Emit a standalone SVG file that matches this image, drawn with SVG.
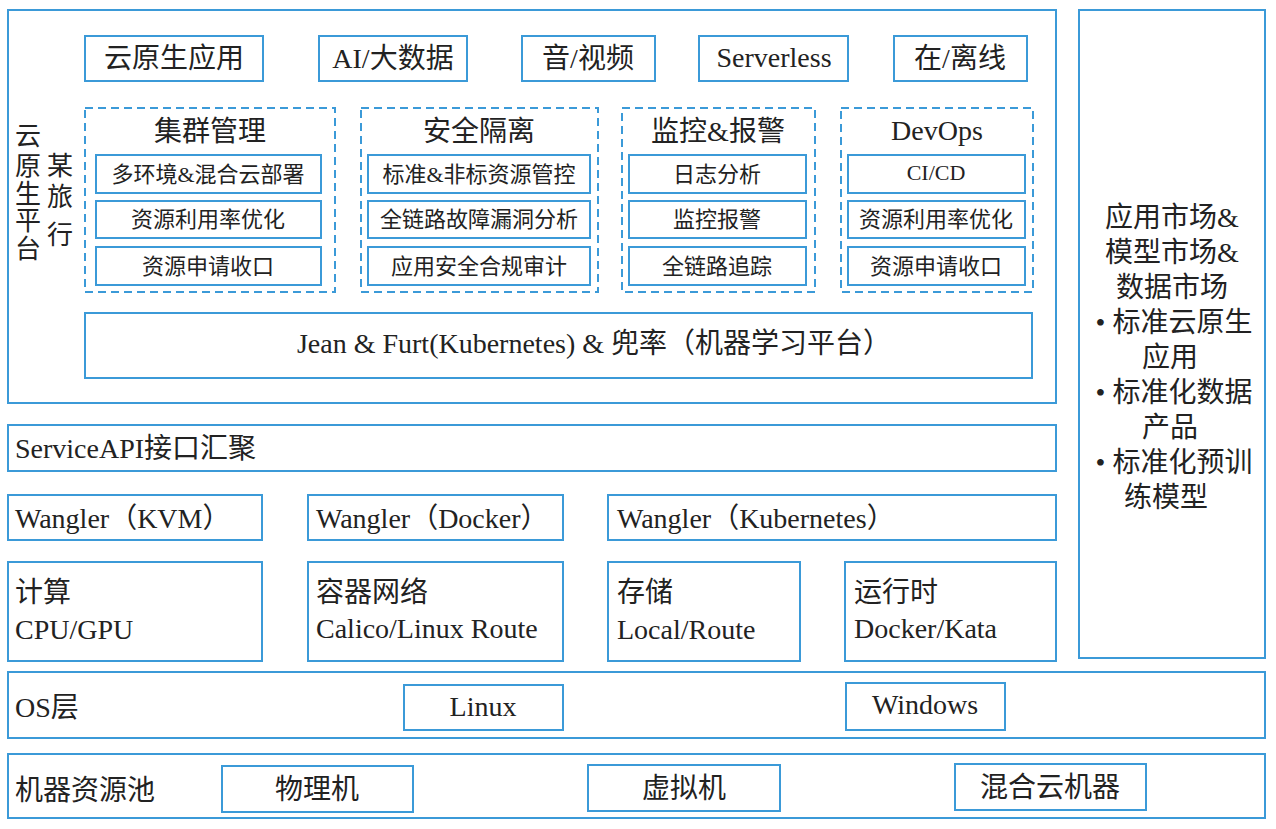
<svg xmlns="http://www.w3.org/2000/svg" width="1276" height="829" viewBox="0 0 1276 829">
<style>
.b{fill:#fff;stroke:#3b9ad8;stroke-width:2}
.d{fill:none;stroke:#3b9ad8;stroke-width:2;stroke-dasharray:8,5}
text{font-family:"Liberation Serif","Noto Sans CJK SC",serif;fill:#222}
.t28{font-size:28px}
.t26{font-size:26px}
.t22{font-size:22px}
.m{text-anchor:middle}
</style>
<rect width="1276" height="829" fill="#fff"/>
<g id="platform">
<rect class="b" x="8" y="10" width="1048" height="393"/>
<text class="t26 m" x="28" y="145">云</text>
<text class="t26 m" x="28" y="175">原</text>
<text class="t26 m" x="28" y="203">生</text>
<text class="t26 m" x="28" y="230">平</text>
<text class="t26 m" x="28" y="258">台</text>
<text class="t26 m" x="60" y="175">某</text>
<text class="t26 m" x="60" y="206">旅</text>
<text class="t26 m" x="60" y="244">行</text>
</g>
<g id="app-cloudnative"><rect class="b" x="85" y="36" width="178" height="45"/><text class="t28 m" x="174" y="68">云原生应用</text></g>
<g id="app-ai"><rect class="b" x="319" y="36" width="148" height="45"/><text class="t28 m" x="393" y="68">AI/大数据</text></g>
<g id="app-av"><rect class="b" x="522" y="36" width="133" height="45"/><text class="t28 m" x="588" y="68">音/视频</text></g>
<g id="app-serverless"><rect class="b" x="699" y="36" width="149" height="45"/><text class="t28 m" x="774" y="67">Serverless</text></g>
<g id="app-online"><rect class="b" x="894" y="36" width="133" height="45"/><text class="t28 m" x="960" y="68">在/离线</text></g>

<g id="grp-cluster">
<rect class="d" x="85" y="108" width="250" height="184"/>
<text class="t28 m" x="210" y="141">集群管理</text>
<rect class="b" x="96" y="155" width="225" height="38"/><text class="t22 m" x="208" y="182">多环境&amp;混合云部署</text>
<rect class="b" x="96" y="201" width="225" height="37"/><text class="t22 m" x="208" y="227">资源利用率优化</text>
<rect class="b" x="96" y="247" width="225" height="38"/><text class="t22 m" x="208" y="274">资源申请收口</text>
</g>
<g id="grp-security">
<rect class="d" x="361" y="108" width="237" height="184"/>
<text class="t28 m" x="479" y="141">安全隔离</text>
<rect class="b" x="368" y="155" width="222" height="38"/><text class="t22 m" x="479" y="182">标准&amp;非标资源管控</text>
<rect class="b" x="368" y="201" width="222" height="37"/><text class="t22 m" x="479" y="227">全链路故障漏洞分析</text>
<rect class="b" x="368" y="247" width="222" height="38"/><text class="t22 m" x="479" y="274">应用安全合规审计</text>
</g>
<g id="grp-monitor">
<rect class="d" x="622" y="108" width="193" height="184"/>
<text class="t28 m" x="718" y="141">监控&amp;报警</text>
<rect class="b" x="629" y="155" width="177" height="38"/><text class="t22 m" x="717" y="182">日志分析</text>
<rect class="b" x="629" y="201" width="177" height="37"/><text class="t22 m" x="717" y="227">监控报警</text>
<rect class="b" x="629" y="247" width="177" height="38"/><text class="t22 m" x="717" y="274">全链路追踪</text>
</g>
<g id="grp-devops">
<rect class="d" x="841" y="108" width="192" height="184"/>
<text class="t28 m" x="937" y="140">DevOps</text>
<rect class="b" x="848" y="155" width="177" height="38"/><text class="t22 m" x="936" y="180">CI/CD</text>
<rect class="b" x="848" y="201" width="177" height="37"/><text class="t22 m" x="936" y="227">资源利用率优化</text>
<rect class="b" x="848" y="247" width="177" height="38"/><text class="t22 m" x="936" y="274">资源申请收口</text>
</g>
<g id="jean"><rect class="b" x="85" y="313" width="947" height="65"/><text class="t28 m" x="594" y="353">Jean &amp; Furt(Kubernetes) &amp; 兜率（机器学习平台）</text></g>

<g id="market">
<rect class="b" x="1079" y="10" width="186" height="648"/>
<text class="t28 m" x="1172" y="227">应用市场&amp;</text>
<text class="t28 m" x="1172" y="262">模型市场&amp;</text>
<text class="t28 m" x="1172" y="297">数据市场</text>
<text class="t28 m" x="1174" y="332">• 标准云原生</text>
<text class="t28 m" x="1170" y="367">应用</text>
<text class="t28 m" x="1174" y="402">• 标准化数据</text>
<text class="t28 m" x="1170" y="437">产品</text>
<text class="t28 m" x="1174" y="472">• 标准化预训</text>
<text class="t28 m" x="1166" y="507">练模型</text>
</g>

<g id="serviceapi"><rect class="b" x="8" y="425" width="1048" height="46"/><text class="t28" x="15" y="458">ServiceAPI接口汇聚</text></g>

<g id="wangler-kvm"><rect class="b" x="8" y="495" width="254" height="45"/><text class="t28" x="15" y="528">Wangler（KVM）</text></g>
<g id="wangler-docker"><rect class="b" x="308" y="495" width="255" height="45"/><text class="t28" x="316" y="528">Wangler（Docker）</text></g>
<g id="wangler-k8s"><rect class="b" x="608" y="495" width="448" height="45"/><text class="t28" x="617" y="528">Wangler（Kubernetes）</text></g>

<g id="compute"><rect class="b" x="8" y="562" width="254" height="99"/><text class="t28" x="15" y="602">计算</text><text class="t28" x="15" y="639">CPU/GPU</text></g>
<g id="network"><rect class="b" x="308" y="562" width="255" height="99"/><text class="t28" x="316" y="602">容器网络</text><text class="t28" x="316" y="638">Calico/Linux Route</text></g>
<g id="storage"><rect class="b" x="608" y="562" width="192" height="99"/><text class="t28" x="617" y="602">存储</text><text class="t28" x="617" y="639">Local/Route</text></g>
<g id="runtime"><rect class="b" x="845" y="562" width="211" height="99"/><text class="t28" x="854" y="602">运行时</text><text class="t28" x="854" y="638">Docker/Kata</text></g>

<g id="os">
<rect class="b" x="8" y="672" width="1257" height="66"/>
<text class="t28" x="15" y="717">OS层</text>
<rect class="b" x="404" y="685" width="159" height="45"/><text class="t28 m" x="483" y="716">Linux</text>
<rect class="b" x="846" y="683" width="159" height="47"/><text class="t28 m" x="925" y="714">Windows</text>
</g>
<g id="pool">
<rect class="b" x="8" y="754" width="1257" height="64"/>
<text class="t28" x="15" y="800">机器资源池</text>
<rect class="b" x="222" y="766" width="191" height="46"/><text class="t28 m" x="317" y="799">物理机</text>
<rect class="b" x="588" y="765" width="192" height="46"/><text class="t28 m" x="684" y="798">虚拟机</text>
<rect class="b" x="955" y="764" width="191" height="46"/><text class="t28 m" x="1050" y="797">混合云机器</text>
</g>
</svg>
